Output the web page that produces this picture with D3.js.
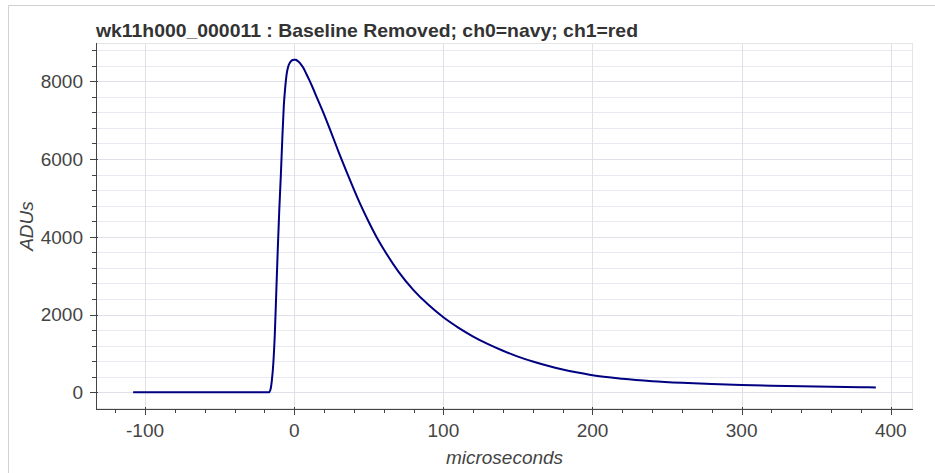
<!DOCTYPE html>
<html>
<head>
<meta charset="utf-8">
<script src="https://cdn.jsdelivr.net/npm/d3@7"></script>
<style>
  html, body { margin: 0; padding: 0; background: #fff; }
  svg { display: block; font-family: "Liberation Sans", Arial, Helvetica, sans-serif; }
</style>
</head>
<body>
<svg id="chart" width="935" height="473"></svg>
<script>
// Pulse waveform, channel 0 (baseline removed)
const timeUs = [-108, -80, -50, -17, -16, -15, -14, -13, -12, -11, -10, -9, -8, -7, -6, -5, -4, -3, -2, -1, 0, 1, 2, 4, 6, 8, 10, 12, 15, 20, 25, 30, 35, 40, 45, 50, 55, 60, 70, 80, 90, 100, 110, 120, 130, 140, 150, 160, 170, 180, 190, 200, 220, 240, 260, 280, 300, 320, 340, 360, 380, 390];
const adus = [0, 0, 0, 0, 60, 300, 750, 1500, 2600, 3700, 4700, 5550, 6500, 7350, 7850, 8200, 8380, 8470, 8520, 8545, 8555, 8550, 8530, 8460, 8350, 8200, 8040, 7870, 7600, 7150, 6660, 6160, 5680, 5220, 4780, 4380, 4010, 3680, 3100, 2630, 2250, 1930, 1665, 1435, 1240, 1070, 920, 795, 685, 590, 510, 440, 350, 288, 245, 212, 190, 170, 155, 143, 132, 127];

const xTicks = [-100, 0, 100, 200, 300, 400];
const yTicks = [0, 2000, 4000, 6000, 8000];

const titleText = "wk11h000_000011 : Baseline Removed; ch0=navy; ch1=red";
const xLabel = "microseconds";
const yLabel = "ADUs";

const svg = d3.select("#chart");
const W = 935, H = 473;
const frame = { left: 96, right: 913, top: 43, bottom: 409 };

// page border
svg.append("line").attr("x1", 8.5).attr("x2", W).attr("y1", 5.5).attr("y2", 5.5)
  .attr("stroke", "#d0d0d0").attr("stroke-width", 1);
svg.append("line").attr("x1", 8.5).attr("x2", 8.5).attr("y1", 5.5).attr("y2", H)
  .attr("stroke", "#d0d0d0").attr("stroke-width", 1);

// data ranges with 5% padding on each side
const xExt = d3.extent(timeUs), yExt = d3.extent(adus);
const xPad = (xExt[1] - xExt[0]) * 0.05, yPad = (yExt[1] - yExt[0]) * 0.05;
const x = d3.scaleLinear().domain([xExt[0] - xPad, xExt[1] + xPad]).range([frame.left, frame.right]);
const y = d3.scaleLinear().domain([yExt[0] - yPad, yExt[1] + yPad]).range([frame.bottom, frame.top]);

const xMinor = d3.range(-120, 420, 20).filter(v => v >= x.domain()[0] && v <= x.domain()[1] && v % 100 !== 0);
const yMinor = d3.range(0, 9200, 400).filter(v => v >= y.domain()[0] && v <= y.domain()[1] && v % 2000 !== 0);

// grid
const grid = svg.append("g");
grid.selectAll(".ymg").data(yMinor).join("line")
  .attr("x1", frame.left).attr("x2", frame.right)
  .attr("y1", d => Math.round(y(d)) + 0.5).attr("y2", d => Math.round(y(d)) + 0.5)
  .attr("stroke", "#e9e9f3").attr("stroke-width", 1);
grid.selectAll(".yg").data(yTicks).join("line")
  .attr("x1", frame.left).attr("x2", frame.right)
  .attr("y1", d => Math.round(y(d)) + 0.5).attr("y2", d => Math.round(y(d)) + 0.5)
  .attr("stroke", "#e0e0ea").attr("stroke-width", 1);
grid.selectAll(".xg").data(xTicks).join("line")
  .attr("y1", frame.top).attr("y2", frame.bottom)
  .attr("x1", d => Math.round(x(d)) + 0.5).attr("x2", d => Math.round(x(d)) + 0.5)
  .attr("stroke", "#e0e0ea").attr("stroke-width", 1);

// frame outline
svg.append("rect").attr("x", frame.left + 0.5).attr("y", frame.top + 0.5)
  .attr("width", frame.right - frame.left - 1).attr("height", frame.bottom - frame.top - 1)
  .attr("fill", "none").attr("stroke", "#e5e5e5").attr("stroke-width", 1);

// waveform
const line = d3.line().x((d, i) => x(timeUs[i])).y(d => y(d)).curve(d3.curveMonotoneX);
svg.append("path").datum(adus).attr("d", line)
  .attr("fill", "none").attr("stroke", "#000080").attr("stroke-width", 2)
  .attr("stroke-linejoin", "round");

// x axis
const axisColor = "#444";
const xAxis = svg.append("g");
xAxis.append("line").attr("x1", frame.left).attr("x2", frame.right)
  .attr("y1", frame.bottom + 0.5).attr("y2", frame.bottom + 0.5).attr("stroke", axisColor);
xAxis.selectAll(".xt").data(xTicks).join("line")
  .attr("x1", d => Math.round(x(d)) + 0.5).attr("x2", d => Math.round(x(d)) + 0.5)
  .attr("y1", frame.bottom - 2).attr("y2", frame.bottom + 6).attr("stroke", axisColor);
xAxis.selectAll(".xm").data(xMinor).join("line")
  .attr("x1", d => Math.round(x(d)) + 0.5).attr("x2", d => Math.round(x(d)) + 0.5)
  .attr("y1", frame.bottom).attr("y2", frame.bottom + 4).attr("stroke", axisColor);
xAxis.selectAll(".xl").data(xTicks).join("text")
  .attr("x", d => x(d)).attr("y", 437).attr("text-anchor", "middle")
  .attr("font-size", 19).attr("fill", axisColor).text(d => d);
svg.append("text").attr("x", (frame.left + frame.right) / 2).attr("y", 464)
  .attr("text-anchor", "middle").attr("font-size", 19).attr("font-style", "italic")
  .attr("fill", axisColor).text(xLabel);

// y axis
const yAxis = svg.append("g");
yAxis.append("line").attr("x1", frame.left + 0.5).attr("x2", frame.left + 0.5)
  .attr("y1", frame.top).attr("y2", frame.bottom + 1).attr("stroke", axisColor);
yAxis.selectAll(".yt").data(yTicks).join("line")
  .attr("y1", d => Math.round(y(d)) + 0.5).attr("y2", d => Math.round(y(d)) + 0.5)
  .attr("x1", frame.left - 6).attr("x2", frame.left + 2).attr("stroke", axisColor);
yAxis.selectAll(".ym").data(yMinor).join("line")
  .attr("y1", d => Math.round(y(d)) + 0.5).attr("y2", d => Math.round(y(d)) + 0.5)
  .attr("x1", frame.left - 4).attr("x2", frame.left).attr("stroke", axisColor);
yAxis.selectAll(".yl").data(yTicks).join("text")
  .attr("x", 83).attr("y", d => y(d)).attr("dy", "0.36em").attr("text-anchor", "end")
  .attr("font-size", 19).attr("fill", axisColor).text(d => d);
svg.append("text").attr("transform", `translate(33,${(frame.top + frame.bottom) / 2}) rotate(-90)`)
  .attr("text-anchor", "middle").attr("font-size", 19).attr("font-style", "italic")
  .attr("fill", axisColor).text(yLabel);

// title
svg.append("text").attr("x", frame.left).attr("y", 37)
  .attr("font-size", 19).attr("font-weight", "bold").attr("fill", "#333")
  .attr("textLength", 542).attr("lengthAdjust", "spacingAndGlyphs")
  .text(titleText);
</script>
</body>
</html>
